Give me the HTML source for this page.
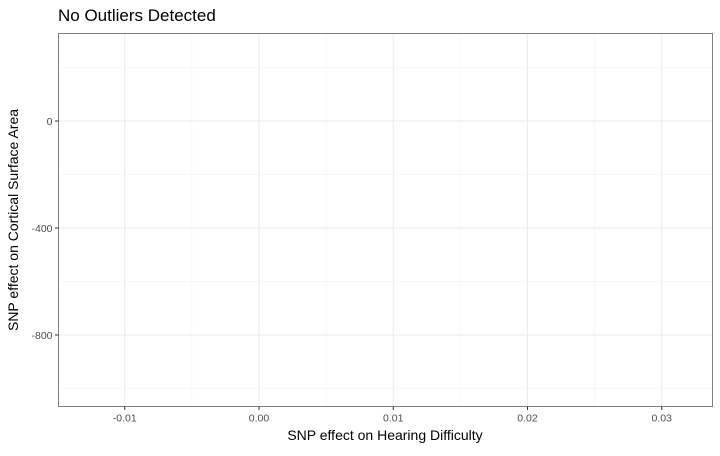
<!DOCTYPE html>
<html><head><meta charset="utf-8"><style>
body{margin:0;background:#fff;width:720px;height:451px;overflow:hidden;font-family:"Liberation Sans",sans-serif}
</style></head><body>
<svg id="chart" width="720" height="451" xmlns="http://www.w3.org/2000/svg">
<rect width="720" height="451" fill="#fff"/>
<text x="58" y="21" font-size="17" fill="#000">No Outliers Detected</text>
<g id="grid"></g>
<g id="points"></g>
<rect x="58.5" y="33.5" width="654" height="373" fill="none" stroke="#7f7f7f" stroke-width="1"/>
<g id="axes"></g>
<text x="385" y="440" font-size="14" text-anchor="middle" fill="#000">SNP effect on Hearing Difficulty</text>
<text transform="translate(18,220) rotate(-90)" font-size="14" text-anchor="middle" fill="#000">SNP effect on Cortical Surface Area</text>
</svg>
<script>
const xTicks = [-0.01, 0.00, 0.01, 0.02, 0.03];
const xTickLabels = ["-0.01", "0.00", "0.01", "0.02", "0.03"];
const yTicks = [0, -400, -800];
const yTickLabels = ["0", "-400", "-800"];
const pointsX = [];
const pointsY = [];

const NS = "http://www.w3.org/2000/svg";
const px = 134.25 / 0.01;
const xScale = v => 259 + v * px;
const yScale = v => 121 - v * (107 / 400);
const L = 58.5, R = 712.5, T = 33.5, B = 406.5;
function mk(tag, attrs, parent) { const e = document.createElementNS(NS, tag); for (const k in attrs) e.setAttribute(k, attrs[k]); parent.appendChild(e); return e; }
const grid = document.getElementById('grid'), axes = document.getElementById('axes'), pts = document.getElementById('points');

const xStep = xTicks[1] - xTicks[0];
const xMinor = [];
for (let i = -1; i < xTicks.length; i++) xMinor.push(xTicks[0] + (i + 0.5) * xStep);
xMinor.forEach(v => { const x = xScale(v); if (x > L && x < R) { const l = mk('line', {x1: x, x2: x, y1: T, y2: B, stroke: '#f2f2f2', 'stroke-width': 0.6}, grid);

 } });
const yStep = yTicks[0] - yTicks[1];
const yMinor = [];
for (let i = -1; i < yTicks.length + 1; i++) yMinor.push(yTicks[0] + yStep / 2 - i * yStep);
yMinor.forEach(v => { const y = yScale(v); if (y > T && y < B) { const l = mk('line', {x1: L, x2: R, y1: y, y2: y, stroke: '#f2f2f2', 'stroke-width': 0.6}, grid);

 } });

xTicks.forEach((v, i) => {
  const x = xScale(v);
  const g = mk('line', {x1: x, x2: x, y1: T, y2: B, stroke: '#ebebeb', 'stroke-width': 1.1}, grid);
  
  
  const t = mk('line', {x1: x, x2: x, y1: B, y2: B + 3.5, stroke: '#333'}, axes);
  
  
  const tx = mk('text', {x: x, y: B + 15, 'font-size': 10.5, 'text-anchor': 'middle', fill: '#4d4d4d'}, axes);
  tx.textContent = xTickLabels[i];
  
  
});
yTicks.forEach((v, i) => {
  const y = yScale(v);
  const g = mk('line', {x1: L, x2: R, y1: y, y2: y, stroke: '#ebebeb', 'stroke-width': 1.1}, grid);
  
  
  const t = mk('line', {x1: L - 3.5, x2: L, y1: y, y2: y, stroke: '#333'}, axes);
  
  
  const tx = mk('text', {x: L - 6, y: y + 4, 'font-size': 10.5, 'text-anchor': 'end', fill: '#4d4d4d'}, axes);
  tx.textContent = yTickLabels[i];
  
  
});
pointsX.forEach((v, i) => {
  const c = mk('circle', {cx: xScale(v), cy: yScale(pointsY[i]), r: 2, fill: '#000'}, pts);
  
  
});
</script>
</body></html>
